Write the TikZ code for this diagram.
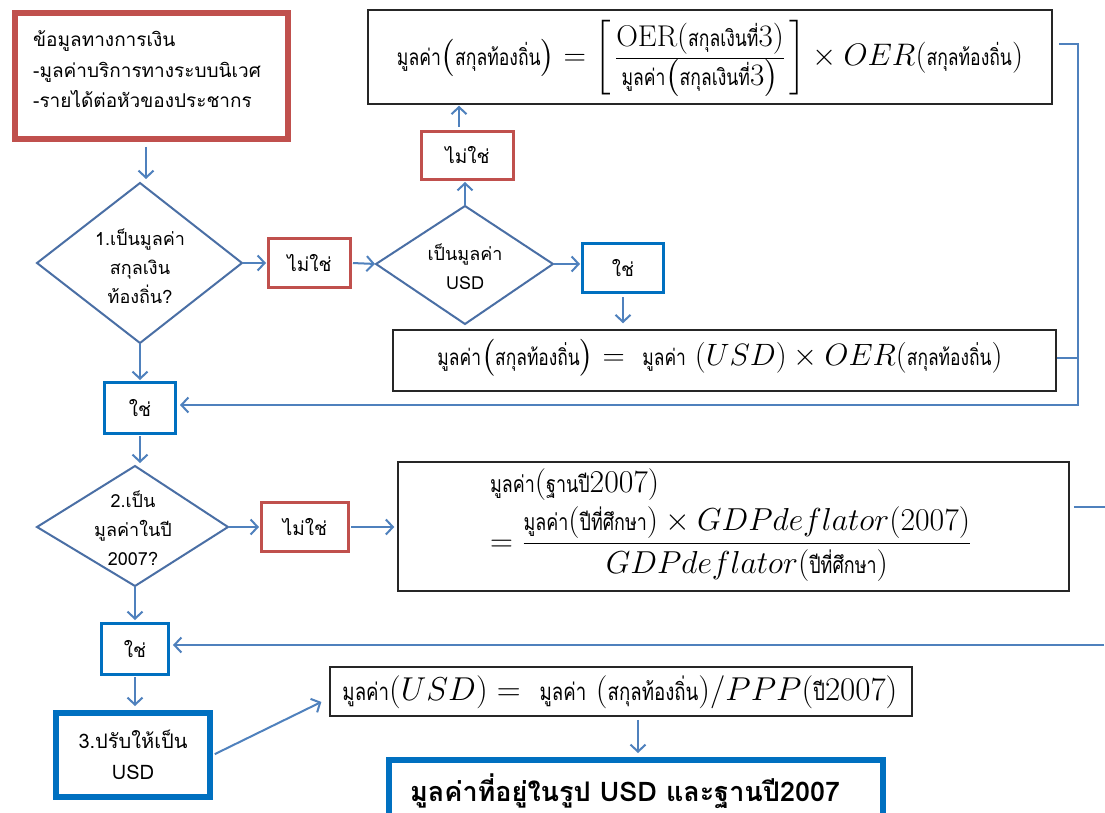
\documentclass[tikz,border=0pt]{standalone}
\usepackage{fontspec}
\usepackage{amsmath}
\usepackage{graphicx}
\usetikzlibrary{arrows.meta}
\newfontfamily\thaifont[Script=Thai]{Loma}
\newfontfamily\thaicond[Script=Thai,FakeStretch=0.78]{Loma}
\definecolor{redb}{HTML}{C0504D}
\definecolor{arrowc}{HTML}{4F81BD}
\definecolor{diac}{HTML}{4A6FA5}
\definecolor{blueb}{HTML}{0070C0}
\newcommand\tth[1]{\text{\thaicond\fontsize{15}{17}\selectfont #1}}
\begin{document}
\begin{tikzpicture}[x=1pt,y=-1pt,
  arr/.style={draw=arrowc, line width=2pt, -{Straight Barb[length=7pt,width=15pt]}, shorten <=1pt, shorten >=1pt},
  conn/.style={draw=arrowc, line width=2pt},
  redbox/.style={draw=redb, line width=3pt, fill=white, inner sep=0pt, font=\thaifont\fontsize{19}{22}\selectfont},
  bluebox/.style={draw=blueb, line width=3pt, fill=white, inner sep=0pt, font=\thaifont\fontsize{19}{22}\selectfont},
  fbox/.style={draw=black!85, line width=1.5pt, fill=white, inner sep=0pt},
  dia/.style={draw=diac, line width=2pt, fill=white},
  lbl/.style={font=\thaifont\fontsize{18}{29}\selectfont, align=center, inner sep=0pt},
  ftext/.style={inner sep=0pt, font=\fontsize{20}{24}\selectfont}
]
\useasboundingbox (0,0) rectangle (1105,813);
\clip (0,0) rectangle (1105,813);
\fill[white] (0,0) rectangle (1105,813);

% top-left info box
\node[redbox, line width=6pt, minimum width=273pt, minimum height=126pt] (tl) at (151.5,76) {};
\node[anchor=base west, inner sep=0pt, font=\thaifont\fontsize{19}{21}\selectfont] (tl1) at (33,47) {ข้อมูลทางการเงิน};
\node[anchor=base west, inner sep=0pt, font=\thaifont\fontsize{19}{21}\selectfont] (tl2) at (33,78) {-มูลค่าบริการทางระบบนิเวศ};
\node[anchor=base west, inner sep=0pt, font=\thaifont\fontsize{19}{21}\selectfont] (tl3) at (33,108) {-รายได้ต่อหัวของประชากร};

% diamond 1
\coordinate (d1l) at (37,263);
\coordinate (d1t) at (140,183);
\coordinate (d1r) at (242,263);
\coordinate (d1b) at (140,343);
\draw[dia] (d1l) -- (d1t) -- (d1r) -- (d1b) -- cycle;
\node[lbl] (d1) at (140,266) {1.เป็นมูลค่า\\สกุลเงิน\\ท้องถิ่น?};

% no box 1
\node[redbox, minimum width=82pt, minimum height=49pt] (n1) at (309.5,263) {ไม่ใช่};

% diamond 2
\coordinate (d2l) at (376,264);
\coordinate (d2t) at (465,206);
\coordinate (d2r) at (553,264);
\coordinate (d2b) at (465,324);
\draw[dia] (d2l) -- (d2t) -- (d2r) -- (d2b) -- cycle;
\node[lbl] (d2) at (465,267) {เป็นมูลค่า\\USD};

% no box 2
\node[redbox, minimum width=92pt, minimum height=48pt] (n2) at (467.5,155.5) {ไม่ใช่};

% formula 1
\node[fbox, minimum width=684pt, minimum height=94pt] (f1) at (710,57) {};
\node[ftext] (f1t) at (710,58) {\resizebox{626pt}{!}{\renewcommand\arraystretch{1.08}$\tth{มูลค่า}\bigl(\tth{สกุลท้องถิ่น}\bigr) = \left[\,\begin{array}{@{}c@{}}\mathrm{OER}(\tth{สกุลเงินที่}3)\\ \hline \tth{มูลค่า}\bigl(\tth{สกุลเงินที่}3\bigr)\end{array}\,\right] \times OER(\tth{สกุลท้องถิ่น})$}};

% yes box 1
\node[bluebox, minimum width=81pt, minimum height=49pt] (y1) at (623,268) {ใช่};

% formula 2
\node[fbox, minimum width=663pt, minimum height=61pt] (f2) at (724.5,360.5) {};
\node[ftext] (f2t) at (720,358) {\resizebox{565pt}{!}{$\tth{มูลค่า}\bigl(\tth{สกุลท้องถิ่น}\bigr) = \ \tth{มูลค่า}\ (USD) \times OER(\tth{สกุลท้องถิ่น})$}};

% yes box 2
\node[bluebox, minimum width=71pt, minimum height=51pt] (y2) at (140,408) {ใช่};

% diamond 3
\coordinate (d3l) at (37,527);
\coordinate (d3t) at (135,466);
\coordinate (d3r) at (228,527);
\coordinate (d3b) at (135,586);
\draw[dia] (d3l) -- (d3t) -- (d3r) -- (d3b) -- cycle;
\node[lbl] (d3) at (133,528) {2.เป็น\\มูลค่าในปี\\2007?};

% no box 3
\node[redbox, minimum width=87pt, minimum height=49pt] (n3) at (305,527) {ไม่ใช่};

% formula 3
\node[fbox, minimum width=671pt, minimum height=129pt] (f3) at (733.5,526.5) {};
\node[ftext] (f3t) at (731,524) {\resizebox{482pt}{!}{$\begin{array}{@{}l@{}}\tth{มูลค่า}(\tth{ฐานปี}2007)\\[2pt] =\dfrac{\tth{มูลค่า}(\tth{ปีที่ศึกษา}) \times GDPdeflator(2007)}{GDPdeflator(\tth{ปีที่ศึกษา})}\end{array}$}};

% yes box 3
\node[bluebox, minimum width=67pt, minimum height=51pt] (y3) at (135,649) {ใช่};

% convert box
\node[bluebox, line width=6pt, minimum width=154pt, minimum height=84pt, align=center, font=\thaifont\fontsize{20}{31}\selectfont] (b3) at (133,755) {3.ปรับให้เป็น\\USD};

% formula 4
\node[fbox, minimum width=582pt, minimum height=49pt] (f4) at (621,691.5) {};
\node[ftext] (f4t) at (620,692) {\resizebox{555pt}{!}{$\tth{มูลค่า}(USD) = \ \tth{มูลค่า}\ (\tth{สกุลท้องถิ่น})/PPP(\tth{ปี}2007)$}};

% final box
\node[bluebox, line width=6pt, minimum width=494pt, minimum height=80pt] (fin) at (636,800) {};
\node[anchor=base west, inner sep=0pt, font=\thaifont\bfseries\fontsize{27}{30}\selectfont] (fint) at (410,801) {มูลค่าที่อยู่ในรูป USD และฐานปี2007};

% helper coordinates
\coordinate (a0) at (146,0);
\coordinate (a1) at (459,0);
\coordinate (a2) at (638,0);
\coordinate (rtop) at (1078,44);
\coordinate (rbot) at (1078,405);
\coordinate (edge1) at (1105,507);
\coordinate (edge2) at (1105,645);

% connectors
\draw[arr, shorten <=5pt, shorten >=4pt] (tl.south -| a0) -- (d1t -| a0);
\draw[arr] (d1r) -- (n1.west |- d1r);
\draw[arr] (n1.east) -- (d2l);
\draw[arr] (d2t) -- (d2t |- n2.south);
\draw[arr, shorten <=3pt] (n2.north -| a1) -- (f1.south -| a1);
\draw[arr] (d2r) -- (y1.west |- d2r);
\draw[arr, shorten <=3pt, shorten >=6pt] (y1.south) -- (f2.north -| y1.south);
\draw[arr] (d1b) -- (y2.north);
\draw[arr, shorten >=3pt] (y2.south) -- (y2.south |- d3t);
\draw[arr] (d3r) -- (n3.west |- d3r);
\draw[arr, shorten >=3pt] (n3.east) -- (f3.west |- n3.east);
\draw[arr, shorten >=2pt] (d3b) -- (y3.north -| d3b);
\draw[arr, shorten >=4pt] (y3.south) -- (b3.north -| y3.south);
\draw[arr, shorten <=2pt] (b3.east) -- ([xshift=-7pt,yshift=-10pt]f4.west);
\draw[arr, shorten <=3pt, shorten >=4pt] (f4.south -| a2) -- (fin.north -| a2);

\draw[arr, shorten >=3pt] (f1.east |- rtop) ++(5,0) -- (rtop) -- (rbot) -- (y2.east |- rbot);
\draw[conn] (f2.east |- 0,358) -- (rbot |- 0,358);
\draw[conn] (f3.east |- edge1) ++(4,0) -- (edge1);
\draw[arr, shorten >=3pt] (edge2) -- (edge2 -| y3.east);
\end{tikzpicture}
\end{document}
